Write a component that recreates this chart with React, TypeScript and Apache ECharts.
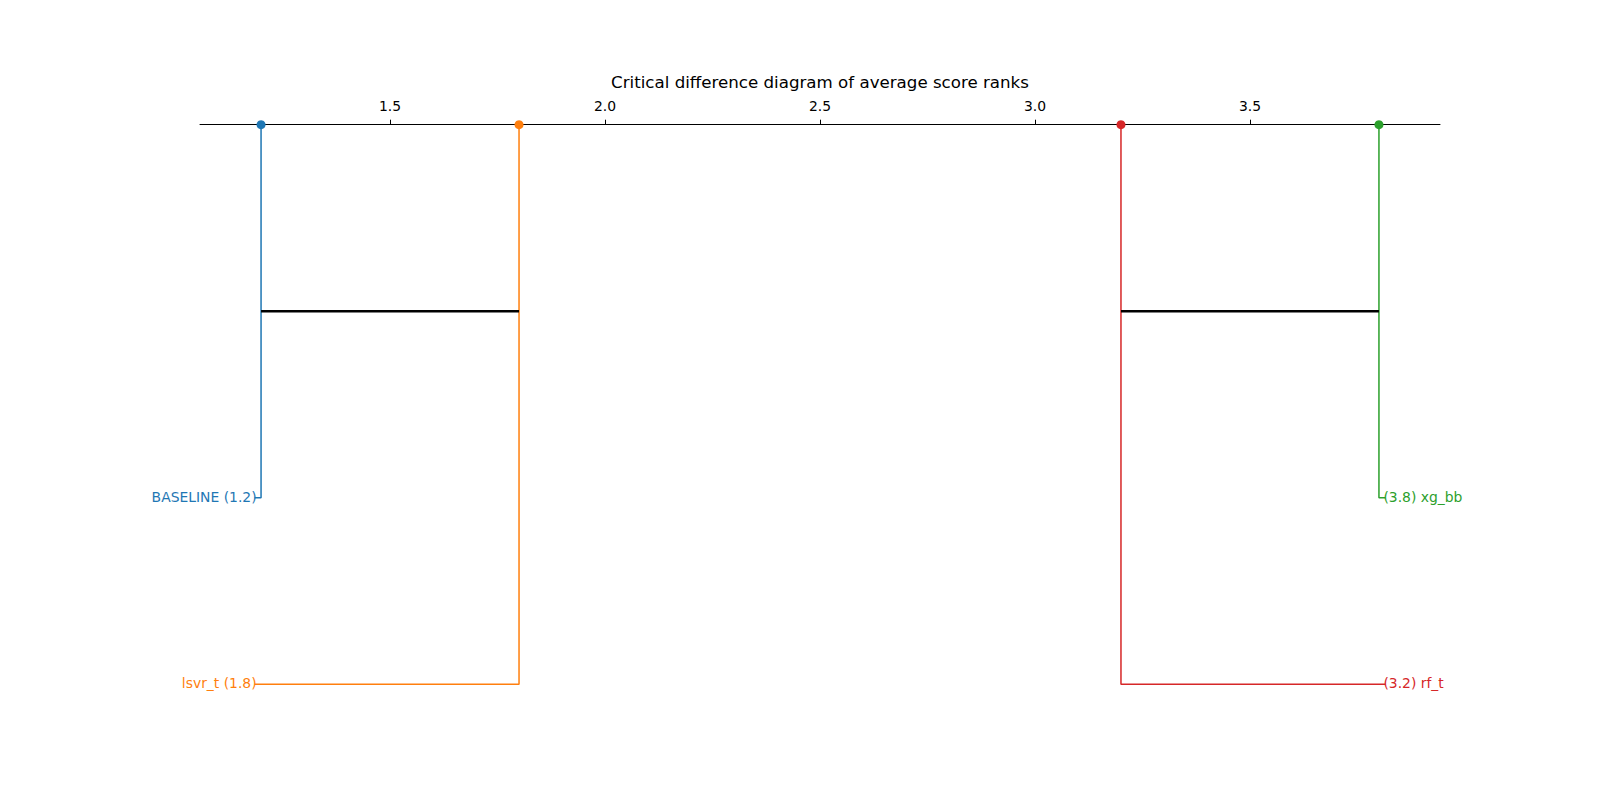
import React, { useEffect, useRef } from "react";
import * as echarts from "echarts";

// Data
const names = ["BASELINE", "lsvr_t", "rf_t", "xg_bb"];
const ranks = [1.2, 1.8, 3.2, 3.8];
const labelRows = [2, 3, 3, 2];
const labelSides = ["left", "left", "right", "right"];
const cliques = [
  [1.2, 1.8],
  [3.2, 3.8],
];
const tickValues = [1.5, 2.0, 2.5, 3.0, 3.5];
const axisMin = 1.058;
const axisMax = 3.942;
const titleText = "Critical difference diagram of average score ranks";

// Styles
const palette = ["#1f77b4", "#ff7f0e", "#d62728", "#2ca02c"];
const FONT = "DejaVu Sans";
const ELBOW = 0.015;

export default function App() {
  const ref = useRef<HTMLDivElement>(null);
  useEffect(() => {
    if (!ref.current) return;
    const chart = echarts.init(ref.current, undefined, { renderer: "svg" });
    const minR = Math.min(...ranks);
    const maxR = Math.max(...ranks);
    const series: any[] = [];
    names.forEach((n, i) => {
      const side = labelSides[i];
      const endX = side === "left" ? minR - ELBOW : maxR + ELBOW;
      const row = labelRows[i];
      series.push({
        type: "line",
        data: [
          [ranks[i], 0],
          [ranks[i], row],
          [endX, row],
        ],
        symbol: "none",
        lineStyle: { color: palette[i], width: 1.5, opacity: 1 },
        clip: false,
        z: 2,
        silent: true,
      });
      series.push({
        type: "scatter",
        data: [[endX, row]],
        symbolSize: 0,
        itemStyle: { opacity: 1, color: palette[i] },
        label: {
          show: true,
          position: side,
          distance: -2,
          offset: [0, -1],
          color: palette[i],
          fontFamily: FONT,
          fontSize: 13.9,
          formatter: () =>
            side === "left"
              ? `${n} (${ranks[i].toFixed(1)})`
              : `(${ranks[i].toFixed(1)}) ${n}`,
        },
        clip: false,
        silent: true,
      });
    });
    cliques.forEach((c) => {
      series.push({
        type: "line",
        data: [
          [c[0], 1],
          [c[1], 1],
        ],
        symbol: "none",
        lineStyle: { color: "#000", width: 2.5, cap: "butt", opacity: 1 },
        z: 3,
        silent: true,
      });
    });
    series.push({
      type: "scatter",
      data: ranks.map((r, i) => ({
        value: [r, 0],
        itemStyle: { color: palette[i], opacity: 1 },
      })),
      symbolSize: 9,
      z: 5,
      clip: false,
      silent: true,
    });

    chart.setOption({
      animation: false,
      backgroundColor: "#fff",
      title: {
        text: titleText,
        left: 815,
        top: 69,
        textAlign: "center",
        textStyle: {
          fontFamily: FONT,
          fontSize: 16.67,
          fontWeight: "normal",
          color: "#000",
        },
      },
      grid: { left: 200, right: 160, top: 124.7, bottom: 115.7 },
      xAxis: {
        type: "value",
        position: "top",
        min: axisMin,
        max: axisMax,
        splitLine: { show: false },
        axisLine: { show: true, onZero: false, lineStyle: { color: "#000", width: 1 } },
        axisTick: {
          show: true,
          length: 5,
          lineStyle: { color: "#000", width: 1 },
          customValues: tickValues,
        },
        axisLabel: {
          show: true,
          margin: 12,
          color: "#000",
          fontFamily: FONT,
          fontSize: 13.9,
          customValues: tickValues,
          formatter: (v: number) => v.toFixed(1),
        },
      },
      yAxis: {
        type: "value",
        inverse: true,
        min: 0,
        max: 3,
        show: false,
      },
      series,
    });
    return () => chart.dispose();
  }, []);
  return (
    <div
      ref={ref}
      style={{ position: "fixed", left: 0, top: 0, width: 1600, height: 800 }}
    />
  );
}
